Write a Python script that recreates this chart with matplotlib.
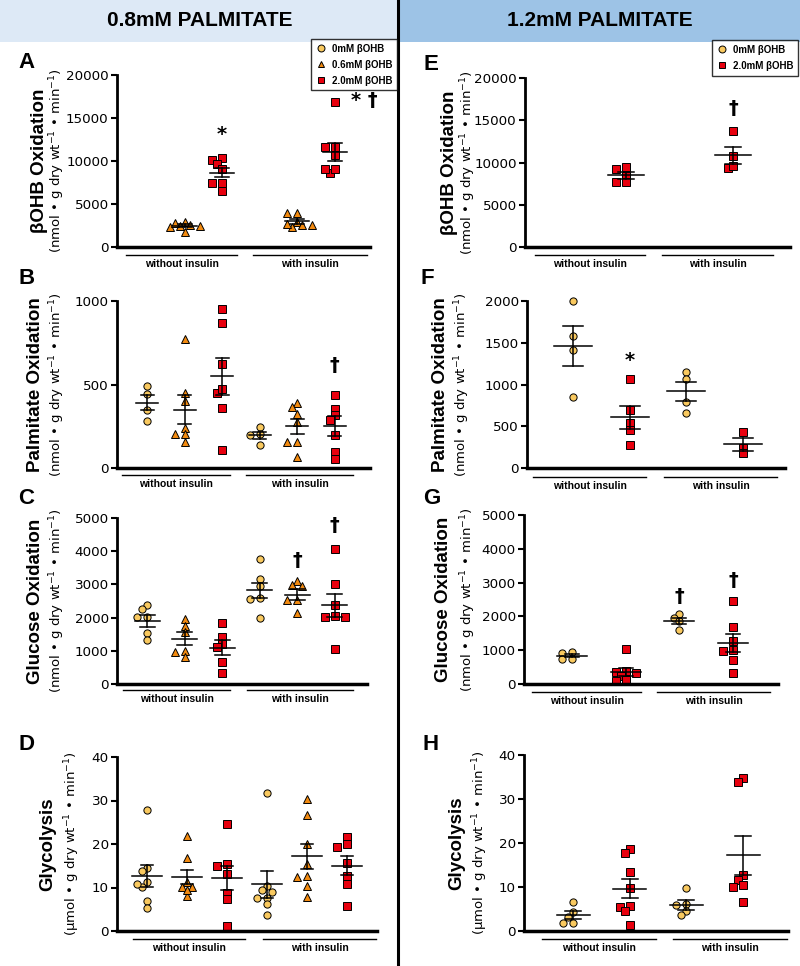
import matplotlib.pyplot as plt
from matplotlib.lines import Line2D
from matplotlib.patches import Rectangle
import numpy as np

W, H = 800, 966
plt.rcParams['font.family'] = ['DejaVu Sans']

# marker styles per βOHB concentration
styles = {
    '0': dict(marker='o', mfc='#f9c95f', label='0mM βOHB'),
    '0.6': dict(marker='^', mfc='#f28a10', label='0.6mM βOHB'),
    '2.0': dict(marker='s', mfc='#e8000e', label='2.0mM βOHB'),
}
kinds_left = ['0', '0.6', '2.0', '0', '0.6', '2.0']
kinds_right = ['0', '2.0', '0', '2.0']
groups = ['without insulin', 'with insulin']

# ---- 0.8mM palmitate ----
A_vals = [[], [2950, 1800, 2600, 2400, 2350, 2500, 2750],
          [10300, 10100, 9700, 9050, 7400, 7400, 6550],
          [], [2900, 2300, 3900, 3900, 2700, 2600, 2600],
          [16900, 11650, 11650, 10700, 8550, 9100, 9100]]
A_mean = [None, 2500, 8650, None, 3000, 11100]
A_sem = [None, 180, 550, None, 280, 1050]
A_marks = [(2, 13100, '*'), (5.45, 17000, '* †')]

B_vals = [[492, 445, 345, 282], [772, 450, 402, 240, 206, 206, 156],
          [952, 866, 622, 452, 474, 360, 110], [246, 204, 196, 140],
          [390, 366, 322, 276, 156, 156, 66], [438, 356, 316, 286, 200, 96, 56]]
B_mean = [392, 350, 548, 196, 250, 250]
B_sem = [47, 85, 112, 22, 45, 60]
B_marks = [(5, 616, '†')]

C_vals = [[2375, 2250, 2025, 2025, 1525, 1340], [1950, 1750, 1560, 1000, 960, 820],
          [1844, 1423, 1212, 1102, 671, 321], [3770, 3150, 2950, 2600, 2550, 2000],
          [3096, 2946, 2976, 2545, 2545, 2124], [4068, 3006, 2375, 2054, 2004, 2024, 1042]]
C_mean = [1894, 1363, 1092, 2826, 2690, 2365]
C_sem = [175, 190, 225, 230, 165, 350]
C_marks = [(4, 3727, '†'), (5, 4780, '†')]

D_vals = [[27.8, 14.4, 13.8, 11.3, 10.2, 10.8, 6.8, 5.2],
          [21.8, 16.7, 11.3, 10.2, 10.2, 8.0, 9.5],
          [24.6, 14.9, 15.3, 13.0, 8.8, 7.3, 1.2],
          [31.7, 10.3, 9.0, 9.4, 7.6, 7.5, 6.3, 3.6],
          [30.3, 26.7, 20.0, 15.4, 12.5, 12.6, 10.4, 7.8],
          [21.5, 19.4, 19.9, 15.7, 12.7, 10.7, 5.8]]
D_mean = [12.6, 12.5, 12.2, 10.7, 17.2, 15.0]
D_sem = [2.5, 1.6, 2.8, 3.0, 2.9, 2.2]
D_marks = []

# ---- 1.2mM palmitate ----
E_vals = [[], [9426, 9228, 8396, 7644, 7644], [], [13703, 10772, 9307, 9624]]
E_mean = [None, 8475, None, 10850]
E_sem = [None, 450, None, 1000]
E_marks = [(3, 16436, '†')]

F_vals = [[2000, 1577, 1409, 851], [1062, 691, 540, 452, 281],
          [1146, 1062, 795, 659], [428, 241, 175]]
F_mean = [1457, 607, 919, 284]
F_sem = [240, 135, 115, 75]
F_marks = [(1, 1290, '*')]

G_vals = [[927, 957, 740, 740], [1026, 335, 394, 355, 237, 99, 118],
          [2070, 1950, 1850, 1600], [2465, 1696, 1272, 986, 1006, 710, 335]]
G_mean = [838, 355, 1864, 1223]
G_sem = [50, 115, 95, 265]
G_marks = [(2, 2584, '†'), (3, 3057, '†')]

H_vals = [[6.6, 4.3, 3.2, 1.9, 1.9], [18.6, 17.7, 13.3, 9.8, 5.7, 5.5, 4.6, 1.3],
          [9.8, 5.8, 6.1, 4.6, 3.6], [34.8, 33.8, 12.7, 11.5, 10.4, 10.0, 6.5]]
H_mean = [3.6, 9.6, 5.9, 17.2]
H_sem = [0.9, 2.2, 1.1, 4.5]
H_marks = []

beta_ticks = [0, 5000, 10000, 15000, 20000]
palm_ticks_08 = [0, 500, 1000]
palm_ticks_12 = [0, 500, 1000, 1500, 2000]
gluc_ticks = [0, 1000, 2000, 3000, 4000, 5000]
glyc_ticks = [0, 10, 20, 30, 40]

nmol = '(nmol • g dry wt$^{-1}$ • min$^{-1}$)'
umol = '(µmol • g dry wt$^{-1}$ • min$^{-1}$)'

# layout (pixels): letter, data, box, first x, spacing, mean/cap half widths,
# label x's, group line y, group line spans
panels = [
    ('A', A_vals, A_mean, A_sem, A_marks, kinds_left, beta_ticks, 'βOHB Oxidation', nmol,
     (117, 75, 370, 247), 147, 37.5, 12, 7, 40, 57, 255, [(126, 237), (253, 367)], (18, 63)),
    ('B', B_vals, B_mean, B_sem, B_marks, kinds_left, palm_ticks_08, 'Palmitate Oxidation', nmol,
     (117, 301, 370, 468), 147, 37.5, 11, 6.5, 36, 57, 475, [(122, 230), (246, 353)], (18, 278)),
    ('C', C_vals, C_mean, C_sem, C_marks, kinds_left, gluc_ticks, 'Glucose Oxidation', nmol,
     (117, 518, 367, 684), 147, 37.5, 12.5, 7.5, 36, 57, 690, [(123, 230), (247, 353)], (18, 499)),
    ('D', D_vals, D_mean, D_sem, D_marks, kinds_left, glyc_ticks, 'Glycolysis', umol,
     (117, 757, 377, 931), 147, 40, 15, 6, 48, 72, 939, [(133, 245), (263, 376)], (18, 745)),
    ('E', E_vals, E_mean, E_sem, E_marks, kinds_right, beta_ticks, 'βOHB Oxidation', nmol,
     (525, 78, 790, 247), 572, 53.7, 18, 8, 450, 468, 255, [(535, 645), (662, 773)], (423, 65)),
    ('F', F_vals, F_mean, F_sem, F_marks, kinds_right, palm_ticks_12, 'Palmitate Oxidation', nmol,
     (527, 301, 785, 468), 573, 56.7, 19, 10, 440, 462, 477, [(533, 646), (664, 777)], (420, 278)),
    ('G', G_vals, G_mean, G_sem, G_marks, kinds_right, gluc_ticks, 'Glucose Oxidation', nmol,
     (524, 515, 778, 684), 572, 53.7, 15, 7, 443, 468, 692, [(532, 641), (657, 770)], (423, 499)),
    ('H', H_vals, H_mean, H_sem, H_marks, kinds_right, glyc_ticks, 'Glycolysis', umol,
     (524, 755, 788, 931), 573, 56.7, 16.5, 8, 457, 480, 939, [(542, 656), (673, 787)], (422, 745)),
]

fig = plt.figure(figsize=(W / 100, H / 100), dpi=100)


def fx(x):
    return x / W


def fy(y):
    return 1 - y / H


def swarm(ax, xc, vals, d=5.5, step=5.0):
    # spread overlapping points sideways, pixel distances
    xs = np.full(len(vals), float(xc))
    placed = []
    x0 = ax.transData.transform((xc, 0))[0]
    unit = ax.transData.transform((xc + 1, 0))[0] - x0
    for i in np.argsort(vals)[::-1]:
        ypx = ax.transData.transform((xc, vals[i]))[1]
        for k in [0, -1, 1, -2, 2, -3, 3, -4, 4]:
            xpx = x0 + k * step
            if all(np.hypot(xpx - px, ypx - py) >= d for px, py in placed):
                break
        placed.append((xpx, ypx))
        xs[i] = xc + (xpx - x0) / unit
    return xs


# header bands
fig.add_artist(Rectangle((0, fy(42)), fx(397), 42 / H, transform=fig.transFigure,
                         facecolor='#dde9f6', edgecolor='none'))
fig.add_artist(Rectangle((fx(398), fy(42)), 1 - fx(398), 42 / H, transform=fig.transFigure,
                         facecolor='#9dc3e6', edgecolor='none'))
fig.text(fx(200), fy(21), '0.8mM PALMITATE', ha='center', va='center',
         fontsize=15, fontweight='bold', family='Liberation Sans')
fig.text(fx(600), fy(21), '1.2mM PALMITATE', ha='center', va='center',
         fontsize=15, fontweight='bold', family='Liberation Sans')
fig.add_artist(Line2D([fx(398), fx(398)], [0, 1], transform=fig.transFigure,
                      color='black', lw=2.2))

for (letter, vals, means, sems, marks, kinds, ticks, title, unit, box, p0, sp,
     mw, cw, lab1, lab2, gy, gspans, lpos) in panels:
    x0, y0, x1, y1 = box
    ax = fig.add_axes([fx(x0), fy(y1), (x1 - x0) / W, (y1 - y0) / H])
    ax.set_xlim((x0 - p0) / sp, (x1 - p0) / sp)
    ax.set_ylim(0, ticks[-1])
    ax.set_yticks(ticks)
    ax.spines[['top', 'right']].set_visible(False)
    ax.spines['left'].set_linewidth(2)
    ax.spines['bottom'].set_linewidth(2.5)
    ax.tick_params(axis='x', bottom=False, labelbottom=False)
    ax.tick_params(axis='y', length=4, width=1.5, labelsize=9.7, pad=2, color='black')

    for i, v in enumerate(vals):
        if not v:
            continue
        st = styles[kinds[i]]
        xs = swarm(ax, i, v)
        ax.plot(xs, v, ls='none', marker=st['marker'], mfc=st['mfc'], mec='black',
                mew=0.7, ms=5.2, clip_on=False, zorder=2)
        m, s = means[i], sems[i]
        hw, hc = mw / sp, cw / sp
        ax.plot([i - hw, i + hw], [m, m], color='black', lw=1.1, zorder=3)
        ax.plot([i, i], [m - s, m + s], color='black', lw=1.1, zorder=3)
        ax.plot([i - hc, i + hc], [m + s, m + s], color='black', lw=1.1, zorder=3)
        ax.plot([i - hc, i + hc], [m - s, m - s], color='black', lw=1.1, zorder=3)

    for xi, yv, t in marks:
        ax.text(xi, yv, t, ha='center' if len(t) == 1 else 'left', va='center',
                fontsize=14, fontweight='bold', clip_on=False)

    yc = (y0 + y1) / 2
    fig.text(fx(lab1), fy(yc), title, rotation=90, ha='center', va='center',
             fontsize=13.5, fontweight='bold', family='Liberation Sans')
    fig.text(fx(lab2), fy(yc), unit, rotation=90, ha='center', va='center', fontsize=9.5)
    fig.text(fx(lpos[0]), fy(lpos[1]), letter, ha='left', va='center',
             fontsize=16, fontweight='bold', family='Liberation Sans')

    for (g0, g1), name in zip(gspans, groups):
        fig.add_artist(Line2D([fx(g0), fx(g1)], [fy(gy), fy(gy)],
                              transform=fig.transFigure, color='black', lw=1))
        fig.text(fx((g0 + g1) / 2), fy(gy + 9), name, ha='center', va='center',
                 fontsize=7.5, fontweight='bold', family='Liberation Sans')

# legends
def handles(keys):
    return [Line2D([], [], ls='none', marker=styles[k]['marker'], mfc=styles[k]['mfc'],
                   mec='black', mew=0.7, ms=5, label=styles[k]['label']) for k in keys]


for keys, right, top in [(['0', '0.6', '2.0'], 397, 39), (['0', '2.0'], 798, 40)]:
    leg = fig.legend(handles=handles(keys), loc='upper right',
                     bbox_to_anchor=(fx(right), fy(top)), frameon=True, fancybox=False,
                     prop={'weight': 'bold', 'size': 7, 'family': 'Liberation Sans'},
                     handlelength=1, handletextpad=0.6, borderpad=0.5, labelspacing=0.6,
                     borderaxespad=0)
    leg.get_frame().set_edgecolor('black')
    leg.get_frame().set_linewidth(1)

fig.savefig('out.png', dpi=100)
